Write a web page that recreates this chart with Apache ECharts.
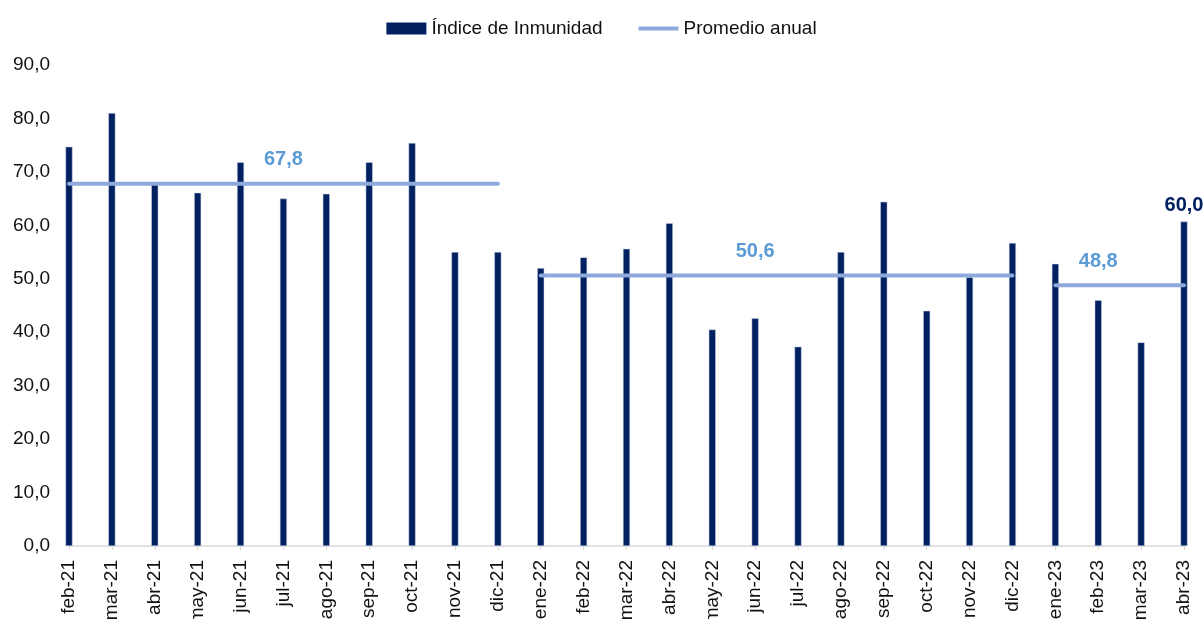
<!DOCTYPE html>
<html>
<head>
<meta charset="utf-8">
<script src="https://cdn.jsdelivr.net/npm/echarts@6/dist/echarts.min.js"></script>
<style>
  html, body { margin: 0; padding: 0; background: #fff; }
  #chart { width: 1203px; height: 619px; }
</style>
</head>
<body>
<div id="chart"></div>
<script>
// meses
var months = ['feb-21', 'mar-21', 'abr-21', 'may-21', 'jun-21', 'jul-21', 'ago-21', 'sep-21', 'oct-21', 'nov-21', 'dic-21',
  'ene-22', 'feb-22', 'mar-22', 'abr-22', 'may-22', 'jun-22', 'jul-22', 'ago-22', 'sep-22', 'oct-22', 'nov-22', 'dic-22',
  'ene-23', 'feb-23', 'mar-23', 'abr-23']
// indice de inmunidad
var indice = [74.7, 81.0, 68.1, 66.1, 71.8, 65.0, 65.9, 71.8, 75.4, 55.0, 55.0,
  52.0, 54.0, 55.6, 60.4, 40.5, 42.6, 37.3, 55.0, 64.4, 44.0, 50.3, 56.7,
  52.8, 46.0, 38.1, 60.7]
var lastLabel = '60,0'
// promedio anual: [primer indice, ultimo indice, valor, indice de la etiqueta]
var prom2021 = [0, 10, 67.8, 5]
var prom2022 = [11, 22, 50.6, 16]
var prom2023 = [23, 26, 48.8, 24]
var yTicks = { min: 0, max: 90, interval: 10 }

var fmt = function (v) { return v.toFixed(1).replace('.', ',') }

function avgSeries(p) {
  var data = months.map(function (m, i) {
    if (i < p[0] || i > p[1]) return null
    if (i === p[3]) {
      return {
        value: p[2],
        label: {
          show: true,
          position: 'top',
          distance: 14,
          formatter: function () { return fmt(p[2]) },
          color: '#5B9BD5',
          fontWeight: 'bold',
          fontSize: 20,
          fontFamily: 'Liberation Sans'
        }
      }
    }
    return p[2]
  })
  return {
    name: 'Promedio anual',
    type: 'line',
    data: data,
    symbol: 'circle',
    symbolSize: 0.1,
    showSymbol: true,
    silent: true,
    z: 3,
    lineStyle: { color: '#8EA9DB', width: 4, cap: 'round' },
    itemStyle: { color: '#8EA9DB' }
  }
}

var chart = echarts.init(document.getElementById('chart'))
var option = {
  animation: false,
  textStyle: { fontFamily: 'Liberation Sans' },
  legend: {
    top: 14,
    left: 'center',
    itemGap: 36,
    itemWidth: 40,
    itemHeight: 12,
    textStyle: { fontSize: 19, color: '#111', fontFamily: 'Liberation Sans' },
    data: [
      { name: 'Índice de Inmunidad', icon: 'rect', itemStyle: { borderWidth: 0 } },
      { name: 'Promedio anual', icon: 'path://M0,0 L40,0 L40,4 L0,4 Z' }
    ]
  },
  grid: { left: 69, right: 19, top: 65, bottom: 73, outerBoundsMode: 'none', containLabel: false },
  xAxis: {
    type: 'category',
    data: months,
    boundaryGap: false,
    axisLine: { lineStyle: { color: '#D9D9D9', width: 1.5 } },
    axisTick: { show: true, length: 4, lineStyle: { color: '#D9D9D9' } },
    axisLabel: {
      rotate: 90,
      interval: 0,
      fontSize: 19,
      color: '#111',
      margin: 14
    }
  },
  yAxis: {
    type: 'value',
    min: yTicks.min,
    max: yTicks.max,
    interval: yTicks.interval,
    splitLine: { show: false },
    axisLine: { show: false },
    axisTick: { show: false },
    axisLabel: {
      fontSize: 19,
      color: '#111',
      margin: 19,
      formatter: fmt
    }
  },
  series: [
    {
      name: 'Índice de Inmunidad',
      type: 'bar',
      barWidth: 7,
      z: 2,
      itemStyle: { color: '#002060', borderColor: '#C9D3E6', borderWidth: 0.5 },
      data: indice.map(function (v, i) {
        if (i === indice.length - 1) {
          return {
            value: v,
            label: {
              show: true,
              position: 'top',
              distance: 6,
              formatter: function () { return lastLabel },
              color: '#002060',
              fontWeight: 'bold',
              fontSize: 20
            }
          }
        }
        return v
      })
    },
    avgSeries(prom2021),
    avgSeries(prom2022),
    avgSeries(prom2023)
  ]
}
chart.setOption(option)
</script>
</body>
</html>
